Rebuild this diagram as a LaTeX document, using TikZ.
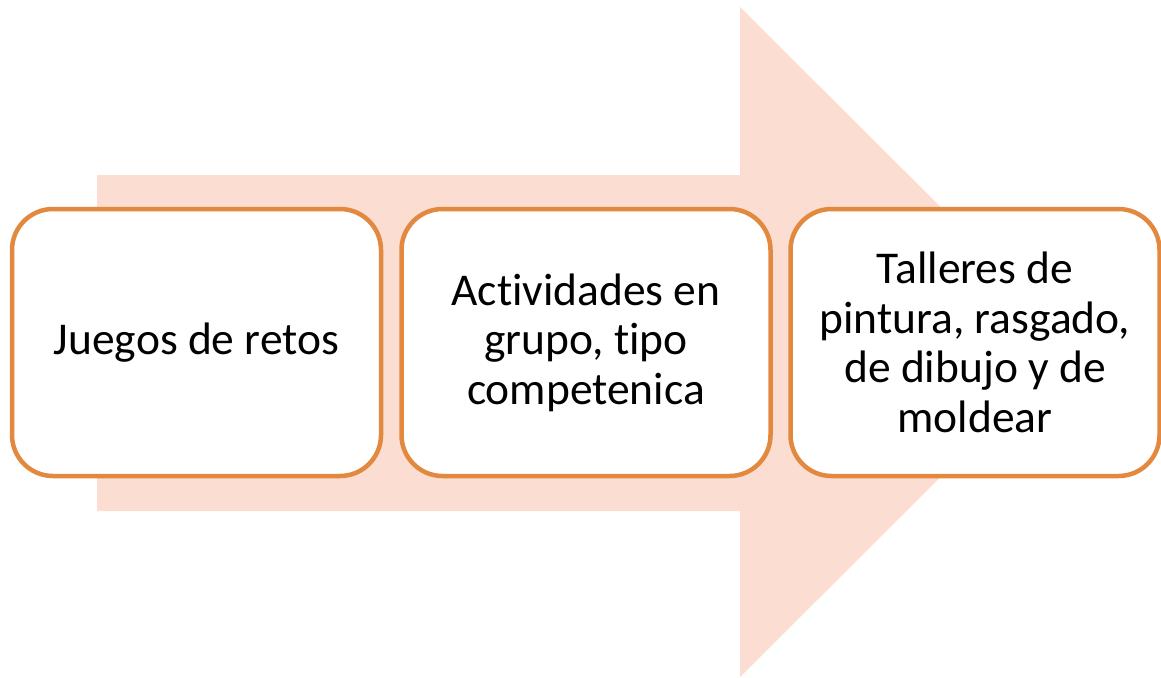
\documentclass[tikz,border=0pt]{standalone}
\usepackage{fontspec}
\setmainfont{Carlito}[Ligatures={NoCommon,NoRare,NoDiscretionary}]
\definecolor{arrowfill}{HTML}{FBDDD1}
\definecolor{boxline}{HTML}{E2893F}
\begin{document}
\begin{tikzpicture}[x=1pt,y=-1pt,
  stage/.style={draw=boxline, line width=4.5pt, fill=white, rounded corners=41pt,
    minimum width=369pt, minimum height=267pt, align=center, inner sep=0pt,
    font=\fontsize{45.5}{49.5}\selectfont}]
\useasboundingbox (0,0) rectangle (1161,677);
\fill[arrowfill] (97,175) -- (740,175) -- (740,7) -- (1076,342) -- (740,677) -- (740,511) -- (97,511) -- cycle;
\node[stage] (b1) at (196.5,342.5) {Juegos de retos};
\node[stage] (b2) at (586,342.5) {Actividades en\\grupo, tipo\\competenica};
\node[stage] (b3) at (975,342.5) {Talleres de\\pintura, rasgado,\\de dibujo y de\\moldear};
\end{tikzpicture}
\end{document}
